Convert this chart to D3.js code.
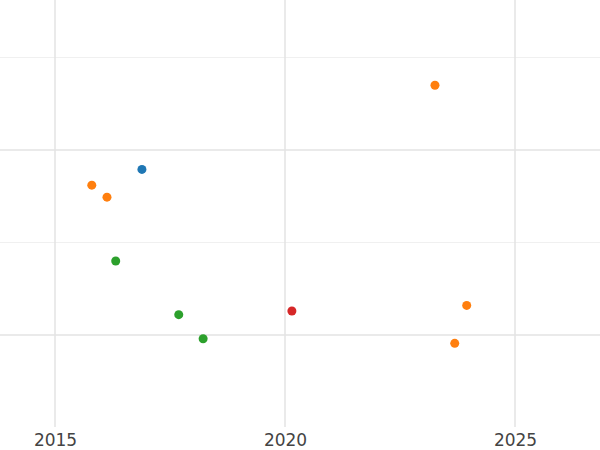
<!DOCTYPE html>
<html><head><meta charset="utf-8">
<script src="https://cdn.jsdelivr.net/npm/d3@7"></script>
<style>body{margin:0;background:#fff}</style>
</head><body><div id="chart"></div>
<script>
const years = [2016.89, 2015.80, 2016.13, 2023.26, 2023.95, 2023.69, 2016.32, 2017.69, 2018.22, 2020.15]
const values = [1.79, 1.62, 1.49, 2.70, 0.32, -0.09, 0.80, 0.22, -0.04, 0.26]
const groups = ['blue', 'orange', 'orange', 'orange', 'orange', 'orange', 'green', 'green', 'green', 'red']
const xTicks = [2015, 2020, 2025]
const yMajor = [0, 2]
const yMinor = [1, 3]

const width = 600, height = 450
const colors = { blue: '#1f77b4', orange: '#ff7f0e', green: '#2ca02c', red: '#d62728' }

const svg = d3.select('#chart').append('svg').attr('width', width).attr('height', height)

const x = d3.scaleLinear().domain([2015, 2020]).range([55, 285])
const y = d3.scaleLinear().domain([0, 2]).range([335, 150])
const plotBottom = 427

svg.append('g').selectAll('line').data(yMinor).enter().append('line')
    .attr('x1', 0).attr('x2', width).attr('y1', d => y(d)).attr('y2', d => y(d))
    .attr('stroke', '#f0f0f0').attr('stroke-width', 1)
svg.append('g').selectAll('line').data(yMajor).enter().append('line')
    .attr('x1', 0).attr('x2', width).attr('y1', d => y(d)).attr('y2', d => y(d))
    .attr('stroke', '#e3e3e3').attr('stroke-width', 1.5)
svg.append('g').selectAll('line').data(xTicks).enter().append('line')
    .attr('x1', d => x(d)).attr('x2', d => x(d)).attr('y1', 0).attr('y2', plotBottom)
    .attr('stroke', '#e3e3e3').attr('stroke-width', 1.5)

const xAxis = svg.append('g').attr('transform', `translate(0,${plotBottom})`)
    .call(d3.axisBottom(x).tickValues(xTicks).tickFormat(d3.format('d')).tickSize(0).tickPadding(7))
xAxis.select('.domain').remove()
xAxis.selectAll('text').attr('fill', '#444').style('font-family', 'DejaVu Sans').style('font-size', '17px')

svg.append('g').selectAll('circle').data(years.map((d, i) => i)).enter().append('circle')
    .attr('cx', i => x(years[i])).attr('cy', i => y(values[i])).attr('r', 4.5)
    .attr('fill', i => colors[groups[i]])
</script></body></html>
